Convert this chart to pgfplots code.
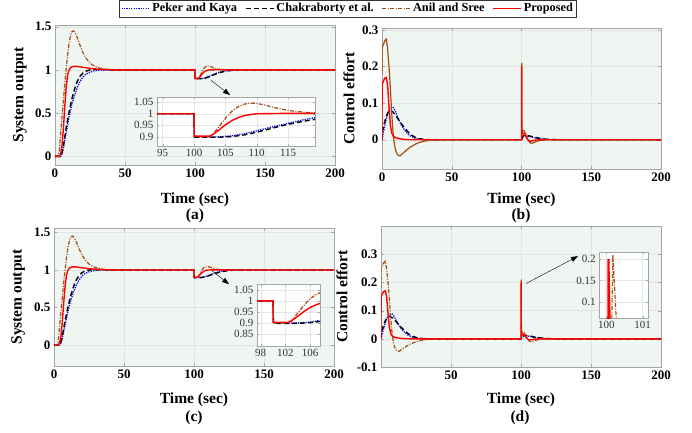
\documentclass[border=0pt]{standalone}
\usepackage{fontspec}
\setmainfont{Liberation Serif}
\usepackage{pgfplots}
\usepackage{pgfplotstable}
\pgfplotsset{compat=1.18}
\usetikzlibrary{arrows.meta}
\definecolor{bgc}{RGB}{239,245,240}
\definecolor{brownc}{RGB}{162,76,22}

% ---------- system output ----------
\pgfplotstableread{
t y
0 0
4 0
5 0.03
6 0.1
7 0.19
8 0.28
10 0.45
12 0.6
14 0.71
16 0.8
18 0.87
20 0.92
22 0.95
25 0.975
28 0.99
32 0.998
36 1.0
100 1.0
100.05 0.9
104 0.9
106 0.904
108 0.913
110 0.926
112 0.94
114 0.952
116 0.965
118 0.977
120 0.986
124 0.995
128 0.999
135 1.0
200 1.0
}\outP
\pgfplotstableread{
t y
0 0
4 0
5 0.04
6 0.12
8 0.33
10 0.51
12 0.66
14 0.78
16 0.87
18 0.93
20 0.965
22 0.985
25 1.0
28 1.006
32 1.005
38 1.002
45 1.0
100 1.0
100.05 0.898
104 0.898
106 0.901
108 0.908
110 0.92
112 0.934
114 0.948
116 0.96
118 0.97
120 0.979
124 0.991
128 0.997
132 1.0
200 1.0
}\outC
\pgfplotstableread{
t y
0 0
2 0
3 0.05
4 0.25
5 0.45
6 0.65
7 0.85
8 1.02
9 1.17
10 1.3
11 1.39
12 1.44
13 1.452
14 1.44
15 1.41
16 1.37
18 1.28
20 1.2
22 1.14
25 1.08
28 1.045
32 1.02
36 1.008
40 1.003
50 1.0
100 1.0
100.05 0.9
102.5 0.9
103 0.91
104 0.945
105 0.98
106 1.01
107 1.03
108 1.042
109 1.046
110 1.045
111 1.04
112 1.033
113 1.026
114 1.02
115 1.015
116 1.011
118 1.006
120 1.003
125 1.0
200 1.0
}\outA
\pgfplotstableread{
t y
0 0
3 0
4 0.03
5 0.12
6 0.32
7 0.58
8 0.8
9 0.94
10 1.0
11 1.025
12 1.037
14 1.042
16 1.04
20 1.03
25 1.018
30 1.01
35 1.005
40 1.002
50 1.0
100 1.0
100.05 0.903
102.5 0.903
103 0.91
104 0.93
105 0.952
106 0.97
107 0.983
108 0.992
109 0.997
110 1.0
115 1.002
120 1.002
130 1.0
200 1.0
}\outR

% ---------- control effort ----------
\pgfplotstableread{
t y
0 0
0.5 0.01
1 0.02
2 0.038
3 0.055
4 0.07
5 0.081
6 0.087
7 0.09
8 0.088
9 0.082
10 0.073
12 0.055
14 0.039
16 0.027
18 0.018
20 0.011
23 0.005
26 0.002
30 0
100 0
100.5 0.004
101 0.007
102 0.009
104 0.01
106 0.009
108 0.007
110 0.005
114 0.002
118 0.001
125 0
200 0
}\ctrP
\pgfplotstableread{
t y
0 0
0.1 0.02
1 0.035
2 0.05
3 0.063
4 0.072
5 0.078
6 0.08
8 0.075
10 0.065
12 0.054
14 0.043
16 0.033
18 0.024
20 0.016
23 0.008
26 0.003
30 0.001
35 0
100 0
100.5 0.006
101 0.01
102 0.012
104 0.011
106 0.01
108 0.008
110 0.006
114 0.003
118 0.001
125 0
200 0
}\ctrC
\pgfplotstableread{
t y
0 0.18
0.05 0.25
1 0.26
2 0.27
3 0.275
4 0.25
5 0.2
6 0.14
7 0.07
8 0.015
9 -0.015
10 -0.032
11 -0.04
12 -0.044
13 -0.044
15 -0.037
18 -0.027
20 -0.021
25 -0.01
30 -0.004
35 -0.001
40 0
100 0
100.14 0
100.18 0.21
100.29 0.035
100.5 0.025
101 0.025
102 0.024
103 0.015
104 0.005
105 -0.003
106 -0.008
107 -0.01
108 -0.009
110 -0.006
112 -0.003
115 -0.001
120 0
200 0
}\ctrA
\pgfplotstableread{
t y
0 0
0.05 0.15
1 0.16
2 0.168
3 0.17
4 0.15
5 0.09
6 0.04
7 0.018
8 0.01
10 0.005
15 0.001
20 0
100 0
100.05 0
100.06 0.2
100.1 0.03
100.5 0.02
101 0.018
102 0.015
103 0.01
104 0.003
105 -0.002
106 -0.004
108 -0.003
110 -0.001
115 0
200 0
}\ctrR

\pgfplotsset{
  blueline/.style={blue, line width=1.3pt, dash pattern=on 1.2pt off 1.2pt},
  blackline/.style={black, line width=1.4pt, dash pattern=on 5pt off 3pt},
  brownline/.style={brownc, line width=1.2pt, dash pattern=on 4pt off 1.5pt on 1pt off 1.5pt},
  brownsolid/.style={brownc, line width=1.2pt},
  redline/.style={red, line width=1.4pt},
  mainax/.style={
    scale only axis, anchor=south west, no markers,
    axis background/.style={fill=bgc},
    grid=major, grid style={gray!22, line width=0.4pt},
    axis line style={gray!70}, tick style={gray!70},
    tick align=inside, major tick length=3pt,
    ticklabel style={font=\fontsize{13}{13}\selectfont\bfseries, text=black},
    label style={font=\fontsize{15.5}{15.5}\selectfont\bfseries},
    /pgf/number format/assume math mode=true,
    xmin=0, xmax=200, xtick={0,50,...,200},
    clip mode=individual,
  },
  insetax/.style={
    scale only axis, anchor=south west, no markers,
    axis background/.style={fill=white},
    grid=major, grid style={gray!20, line width=0.4pt},
    axis line style={gray!70}, tick style={gray!70},
    tick align=inside, major tick length=2pt,
    ticklabel style={font=\fontsize{11}{11}\selectfont, text=black!80},
    /pgf/number format/assume math mode=true,
  },
}

\begin{document}
\begin{tikzpicture}
\useasboundingbox (0,0) rectangle (692pt,432pt);

% ================= (a) =================
\begin{axis}[mainax, at={(55pt,267pt)}, width=280pt, height=140pt,
  ymin=-0.1, ymax=1.52, ytick={0,0.5,1,1.5},
  xlabel={Time (sec)}, ylabel={System output},
  xlabel style={at={(axis description cs:0.5,-0.25)}, anchor=center},
  ylabel style={at={(axis description cs:-0.125,0.5)}, anchor=center},
  legend columns=4,
  legend style={at={(1.0464,1.118)}, anchor=center, draw=black!80, line width=0.5pt,
    font=\fontsize{12.3}{13}\selectfont\bfseries, inner sep=1.5pt,
    /tikz/every even column/.append style={column sep=6pt}},
  legend image code/.code={\draw[#1] (0pt,0pt) -- (28pt,0pt);},
]
\addplot[blueline] table {\outP};
\addplot[blackline] table {\outC};
\addplot[brownline] table {\outA};
\addplot[redline] table {\outR};
\legend{Peker and Kaya, Chakraborty et al., Anil and Sree, Proposed}
\draw[-{Triangle[length=7pt,width=5pt]}, line width=0.4pt] (axis cs:111.4,0.88) -- (axis cs:125,0.71);
\end{axis}

\begin{axis}[insetax, at={(157pt,286pt)}, width=158pt, height=49pt,
  xmin=94.1, xmax=119.3, ymin=0.86, ymax=1.073,
  xtick={95,100,105,110,115}, ytick={0.9,0.95,1,1.05}]
\addplot[blueline] table {\outP};
\addplot[blackline] table {\outC};
\addplot[brownline] table {\outA};
\addplot[redline] table {\outR};
\end{axis}

% ================= (b) =================
\begin{axis}[mainax, at={(382pt,263pt)}, width=279pt, height=141pt,
  ymin=-0.08, ymax=0.305, ytick={0,0.1,0.2,0.3},
  xlabel={Time (sec)}, ylabel={Control effort},
  xlabel style={at={(axis description cs:0.5,-0.22)}, anchor=center},
  ylabel style={at={(axis description cs:-0.118,0.5)}, anchor=center},
]
\addplot[blueline] table {\ctrP};
\addplot[blackline] table {\ctrC};
\addplot[brownsolid] table {\ctrA};
\addplot[redline] table {\ctrR};
\end{axis}

% ================= (c) =================
\begin{axis}[mainax, at={(54pt,66pt)}, width=280pt, height=138pt,
  ymin=-0.28, ymax=1.56, ytick={0,0.5,1,1.5},
  xlabel={Time (sec)}, ylabel={System output},
  xlabel style={at={(axis description cs:0.5,-0.246)}, anchor=center},
  ylabel style={at={(axis description cs:-0.128,0.5)}, anchor=center},
]
\addplot[blueline] table {\outP};
\addplot[blackline] table {\outC};
\addplot[brownline] table {\outA};
\addplot[redline] table {\outR};
\draw[-{Triangle[length=7pt,width=5pt]}, line width=0.4pt] (axis cs:112.9,0.99) -- (axis cs:125,0.81);
\end{axis}

\begin{axis}[insetax, at={(257pt,86pt)}, width=63pt, height=62pt,
  xmin=97.4, xmax=107.6, ymin=0.795, ymax=1.077,
  xtick={98,102,106}, ytick={0.85,0.9,0.95,1,1.05}]
\addplot[blueline] table {\outP};
\addplot[blackline] table {\outC};
\addplot[brownline] table {\outA};
\addplot[redline] table {\outR};
\end{axis}

% ================= (d) =================
\begin{axis}[mainax, at={(381pt,65pt)}, width=280pt, height=141pt,
  ymin=-0.1, ymax=0.4, ytick={-0.1,0,0.1,0.2,0.3},
  xtick={50,100,150,200},
  xlabel={Time (sec)}, ylabel={Control effort},
  xlabel style={at={(axis description cs:0.5,-0.234)}, anchor=center},
  ylabel style={at={(axis description cs:-0.139,0.5)}, anchor=center},
]
\addplot[blueline] table {\ctrP};
\addplot[blackline] table {\ctrC};
\addplot[brownline] table {\ctrA};
\addplot[redline] table {\ctrR};
\draw[-{Triangle[length=7pt,width=5pt]}, line width=0.4pt] (axis cs:103.6,0.196) -- (axis cs:140.7,0.293);
\end{axis}

\begin{axis}[insetax, at={(599pt,114pt)}, width=49pt, height=66pt,
  xmin=99.8, xmax=101.15, ymin=0.063, ymax=0.216,
  xtick={100,101}, ytick={0.1,0.15,0.2}]
\addplot[blueline] table {\ctrP};
\addplot[blackline] table {\ctrC};
\addplot[brownline] table {\ctrA};
\addplot[red, line width=2pt] table {\ctrR};
\end{axis}

% sub-captions
\node[font=\fontsize{15.5}{15.5}\selectfont\bfseries] at (195pt,216pt) {(a)};
\node[font=\fontsize{15.5}{15.5}\selectfont\bfseries] at (521pt,216pt) {(b)};
\node[font=\fontsize{15.5}{15.5}\selectfont\bfseries] at (194pt,14pt) {(c)};
\node[font=\fontsize{15.5}{15.5}\selectfont\bfseries] at (520pt,14pt) {(d)};
\end{tikzpicture}
\end{document}
